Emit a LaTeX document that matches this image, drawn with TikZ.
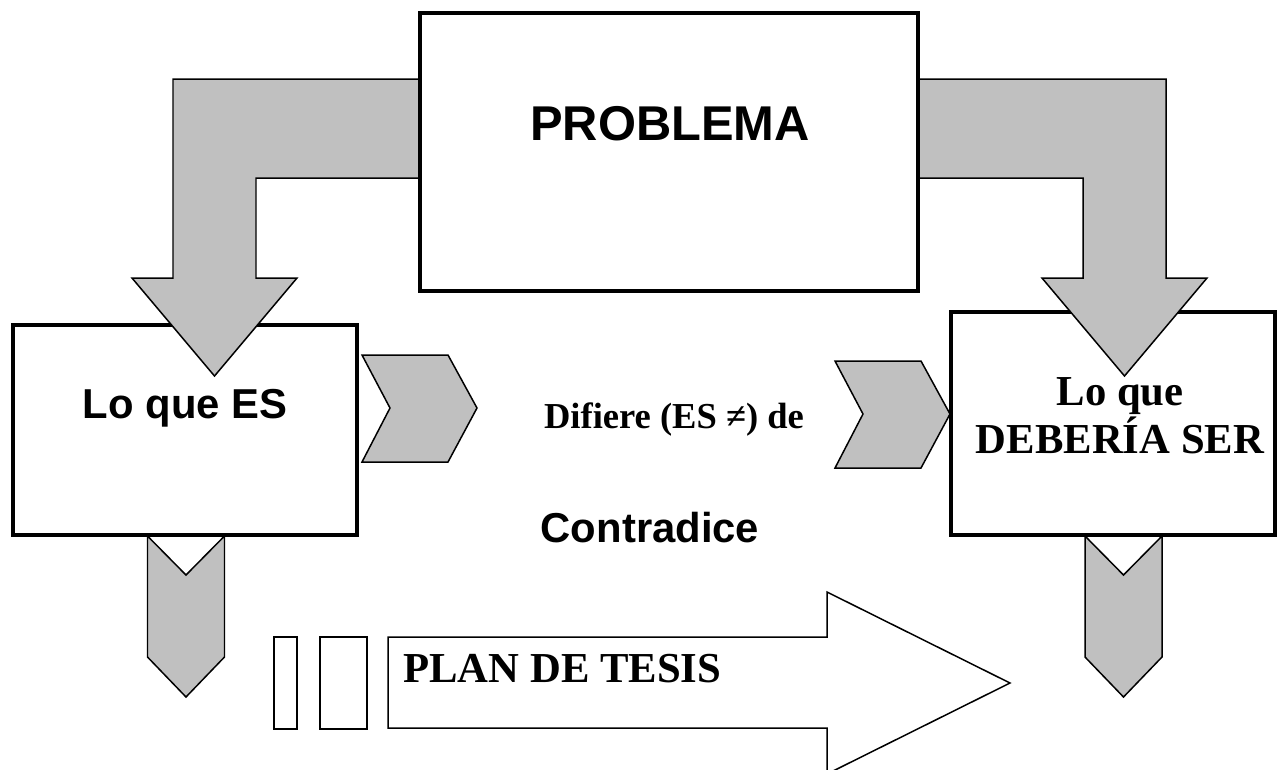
\documentclass[tikz,border=0pt]{standalone}
\usepackage{fontspec}
\setmainfont{Liberation Serif}
\setsansfont{Liberation Sans}
\definecolor{arrowgray}{RGB}{192,192,192}

\begin{document}
\begin{tikzpicture}[x=0.02cm, y=-0.02cm,
    box/.style={draw, line width=2.5pt, fill=white},
    grayarrow/.style={draw, line width=0.85pt, fill=arrowgray},
    outline/.style={draw, line width=0.85pt, fill=white},
    headline/.style={font=\sffamily\bfseries, inner sep=0pt},
    serifline/.style={font=\rmfamily\bfseries, inner sep=0pt}]
    \clip (0,0) rectangle (1282,769);
    % down chevrons under the two side boxes
    \foreach \x in {186, 1123.5}
        \draw[grayarrow, shift={(\x,0)}] (-38.5,536) -- (0,575) -- (38.5,536) -- (38.5,657) -- (0,697) -- (-38.5,657) -- cycle;
    \draw[box] (13,325) rectangle (357,535); % Lo que ES
    \draw[box] (951,312) rectangle (1275,535); % Lo que DEBERIA SER
    % bent arrows out of the problem box
    \draw[grayarrow] (420,79) -- (173,79) -- (173,278) -- (132,278) -- (214.5,376) -- (297,278) -- (256,278) -- (256,178) -- (420,178) -- cycle;
    \draw[grayarrow] (918,79) -- (1166,79) -- (1166,278) -- (1207,278) -- (1124.5,376) -- (1042,278) -- (1083,278) -- (1083,178) -- (918,178) -- cycle;
    \draw[box] (420,13) rectangle (918,291); % PROBLEMA
    % side chevrons
    \foreach \x/\y in {362/355, 835/361}
        \draw[grayarrow, shift={(\x,\y)}] (0,0) -- (86,0) -- (115,53) -- (86,107) -- (0,107) -- (28,53) -- cycle;
    % plan de tesis arrow
    \foreach \x/\w in {274/23, 320/47}
        \draw[outline] (\x,637) rectangle ++(\w,92);
    \draw[outline] (388,637) -- (827,637) -- (827,592) -- (1010,683) -- (827,774) -- (827,728) -- (388,728) -- cycle;
    \node[headline, anchor=base, font=\sffamily\bfseries\fontsize{27.8}{33}\selectfont] (problema) at (670,140) {PROBLEMA};
    \node[headline, anchor=base, font=\sffamily\bfseries\fontsize{23.8}{29}\selectfont] (loquees) at (185,418) {Lo que ES};
    \node[headline, anchor=base, font=\sffamily\bfseries\fontsize{23.8}{29}\selectfont] (contradice) at (650,542) {Contradice};
    \node[serifline, anchor=base, font=\rmfamily\bfseries\fontsize{20.8}{25}\selectfont] (difiere) at (674,428) {Difiere (ES ≠) de};
    \node[serifline, anchor=base, font=\rmfamily\bfseries\fontsize{24.3}{29}\selectfont] (loque) at (1120,405) {Lo que};
    \node[serifline, anchor=base, font=\rmfamily\bfseries\fontsize{24.3}{29}\selectfont] (deberia) at (1120,453) {DEBERÍA SER};
    \node[serifline, anchor=base west, font=\rmfamily\bfseries\fontsize{24.3}{29}\selectfont] (plan) at (403,682) {PLAN DE TESIS};
\end{tikzpicture}
\end{document}
